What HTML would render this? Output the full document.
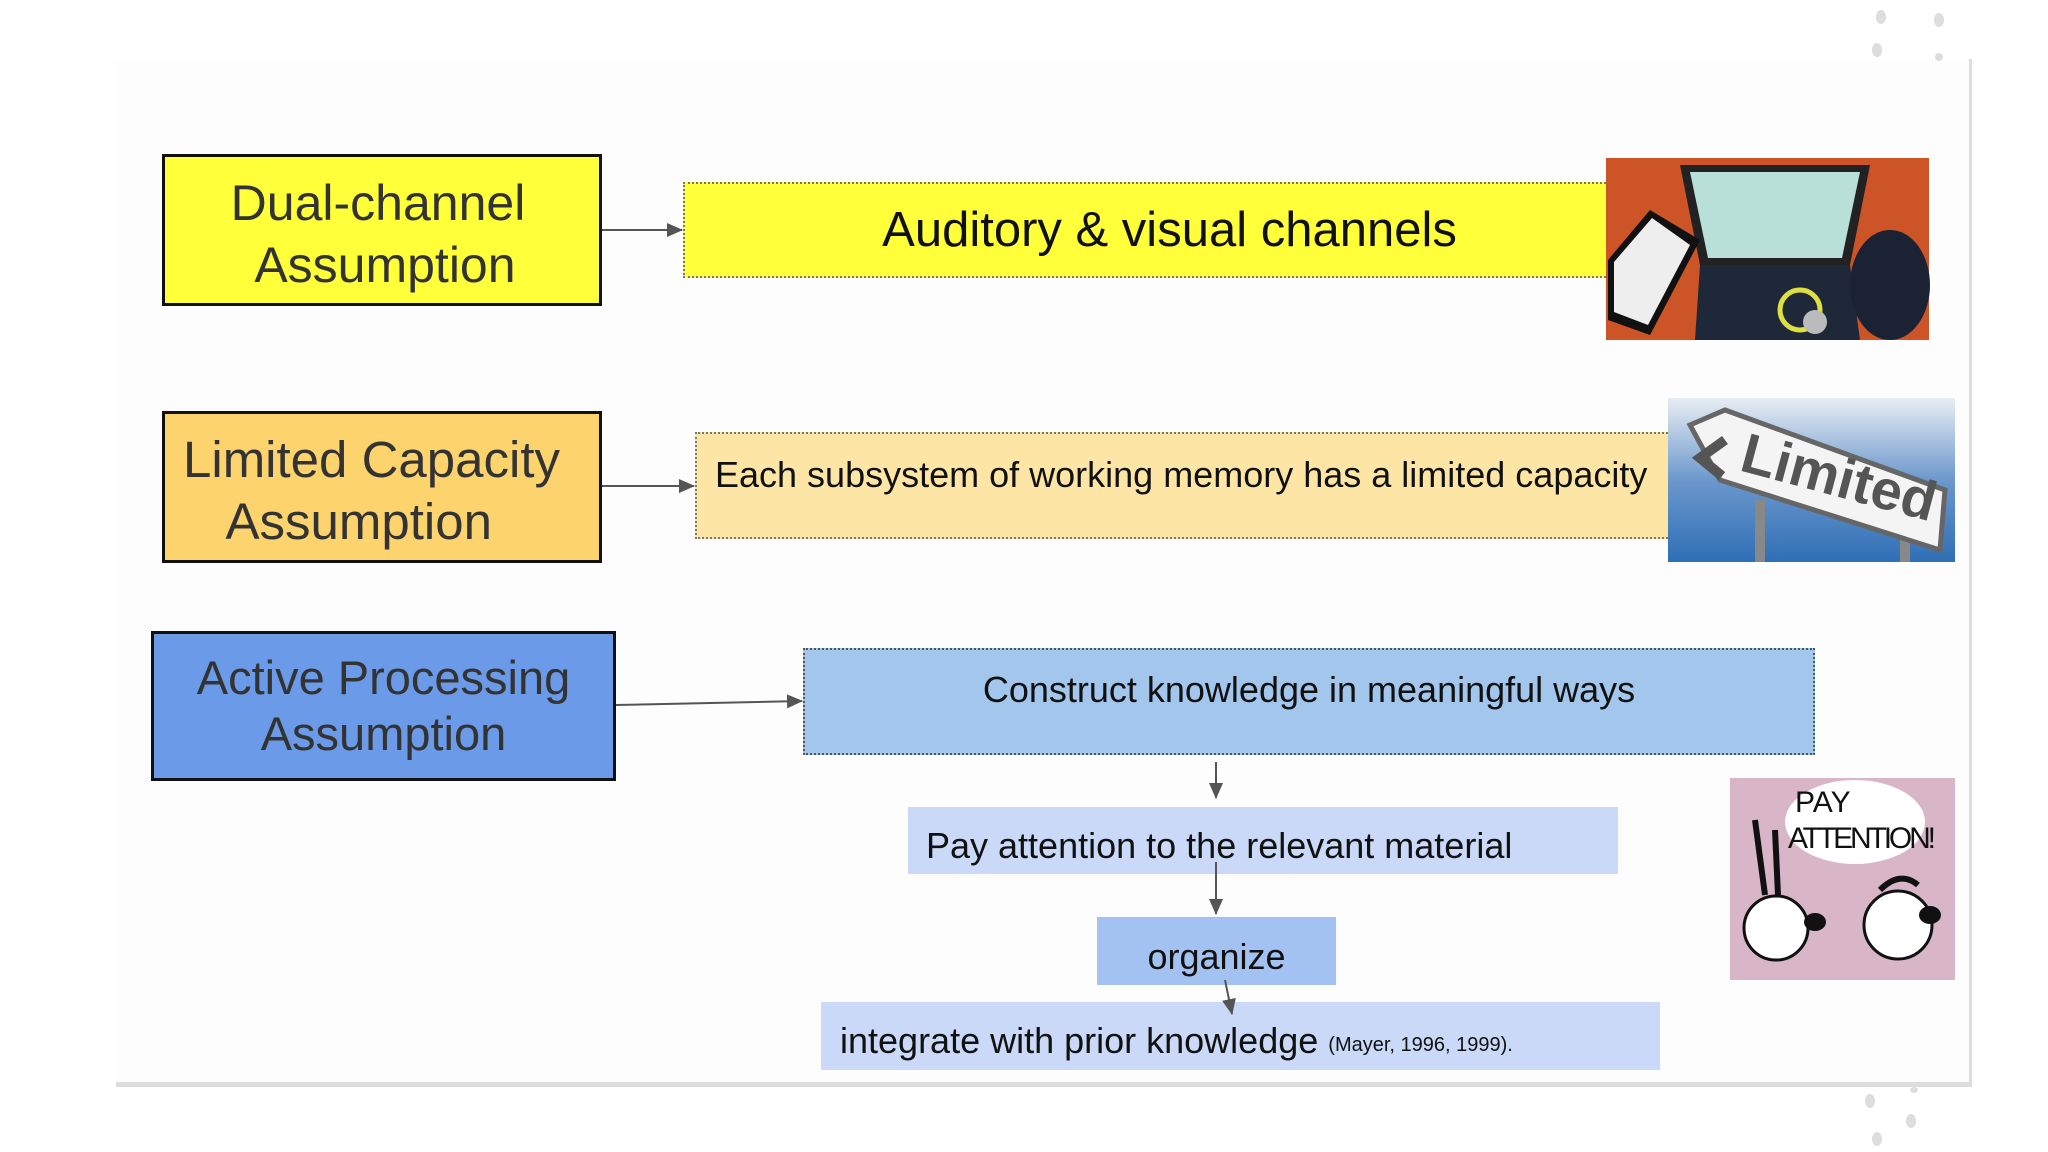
<!DOCTYPE html>
<html><head><meta charset="utf-8"><style>
body{margin:0;width:2048px;height:1152px;background:#fff;position:relative;overflow:hidden;font-family:"Liberation Sans",sans-serif}
.a{position:absolute;box-sizing:border-box;display:flex;align-items:center;justify-content:center;text-align:center;color:#222}
</style></head><body>
<div style="position:absolute;left:116px;top:59px;width:1855px;height:1025px;background:#fdfdfd"></div>
<div style="position:absolute;left:1969px;top:59px;width:3px;height:1025px;background:#ddd"></div>
<div style="position:absolute;left:116px;top:1082px;width:1856px;height:5px;background:#ddd"></div>

<div class="a" style="left:162px;top:154px;width:440px;height:152px;background:#ffff3a;border:3px solid #111;font-size:50px;line-height:62px;color:#333;padding:8px 8px 0 0">Dual-channel<br>&nbsp;Assumption</div>
<div class="a" style="left:162px;top:411px;width:440px;height:152px;background:#fdd36e;border:3px solid #111;font-size:51px;line-height:62px;color:#333;justify-content:flex-start;text-align:left;padding:8px 0 0 18px">Limited Capacity<br>&nbsp;&nbsp;&nbsp;Assumption</div>
<div class="a" style="left:151px;top:631px;width:465px;height:150px;background:#6b9be8;border:3px solid #111;font-size:47px;line-height:56px;color:#333">Active Processing<br>Assumption</div>

<div class="a" style="left:683px;top:182px;width:923px;height:96px;background:#ffff3a;border:2px dotted #777;border-right:none;font-size:49px;color:#111;padding-left:48px">Auditory &amp; visual channels</div>
<div class="a" style="left:695px;top:432px;width:973px;height:107px;background:#fde5a6;border:2px dotted #777;border-right:none;font-size:36px;color:#111;justify-content:flex-start;align-items:flex-start;padding:20px 0 0 18px">Each subsystem of working memory has a limited capacity</div>
<div class="a" style="left:803px;top:648px;width:1012px;height:107px;background:#a3c6ec;border:2px dotted #555;font-size:36px;color:#111;align-items:flex-start;padding-top:19px">Construct knowledge in meaningful ways</div>
<div class="a" style="left:908px;top:807px;width:710px;height:67px;background:#c9d9f7;font-size:36px;color:#111;justify-content:flex-start;padding:10px 0 0 18px">Pay attention to the relevant material</div>
<div class="a" style="left:1097px;top:917px;width:239px;height:68px;background:#a3c2f2;font-size:36px;color:#111;padding-top:12px">organize</div>
<div class="a" style="left:821px;top:1002px;width:839px;height:68px;background:#c9d9f7;font-size:36px;color:#111;justify-content:flex-start;padding:10px 0 0 19px">integrate with prior knowledge&nbsp;<span style="font-size:20px;padding-top:8px">(Mayer, 1996, 1999).</span></div>

<svg style="position:absolute;left:0;top:0" width="2048" height="1152">
<defs><marker id="m" markerWidth="16" markerHeight="14" refX="15" refY="7" orient="auto" markerUnits="userSpaceOnUse"><path d="M0,0L16,7L0,14z" fill="#555"/></marker>
<clipPath id="c1"><rect x="1668" y="398" width="287" height="164"/></clipPath></defs>
<g stroke="#555" stroke-width="2" fill="none" marker-end="url(#m)">
<line x1="602" y1="230" x2="682" y2="230"/>
<line x1="602" y1="486" x2="694" y2="486"/>
<line x1="616" y1="705" x2="802" y2="701"/>
<line x1="1216" y1="762" x2="1216" y2="798"/>
<line x1="1216" y1="862" x2="1216" y2="914"/>
<line x1="1225" y1="980" x2="1232" y2="1014"/>
</g>
<rect x="1606" y="158" width="323" height="182" fill="#d55a2a"/>
<rect x="1606" y="158" width="323" height="182" fill="#b84a20" opacity=".3"/>
<polygon points="1680,165 1870,165 1850,265 1700,265" fill="#222"/>
<polygon points="1690,172 1860,172 1842,258 1708,258" fill="#b8e0d8"/>
<polygon points="1700,265 1850,265 1860,340 1695,340" fill="#1e2838"/>
<polygon points="1608,260 1650,210 1700,240 1650,335 1608,320" fill="#111"/>
<polygon points="1614,262 1652,218 1690,245 1648,325 1614,312" fill="#eee"/>
<ellipse cx="1890" cy="285" rx="40" ry="55" fill="#1a2233"/>
<circle cx="1800" cy="310" r="20" fill="none" stroke="#dde040" stroke-width="5"/>
<circle cx="1815" cy="322" r="12" fill="#bbb"/>
<defs><linearGradient id="sk" x1="0" y1="0" x2="0" y2="1"><stop offset="0" stop-color="#e8eef4"/><stop offset=".5" stop-color="#6c98cc"/><stop offset="1" stop-color="#2f6fb6"/></linearGradient></defs>
<g clip-path="url(#c1)">
<rect x="1668" y="398" width="287" height="164" fill="url(#sk)"/>
<rect x="1755" y="500" width="10" height="62" fill="#888"/><rect x="1900" y="520" width="10" height="42" fill="#888"/>
<polygon points="1690,425 1725,410 1945,490 1940,550 1720,480" fill="#f4f4f4" stroke="#666" stroke-width="5"/>
<text x="1738" y="470" font-family="Liberation Sans" font-weight="bold" font-size="56" fill="#555" transform="rotate(15 1738 470)">Limited</text>
<path d="M1725,440 L1700,458 L1722,476" stroke="#555" stroke-width="10" fill="none"/>
</g>
<rect x="1730" y="778" width="225" height="202" fill="#d9b5c8"/>
<ellipse cx="1855" cy="822" rx="70" ry="42" fill="#fff"/>
<text x="1795" y="812" font-family="Liberation Sans" font-size="30" fill="#111">PAY</text>
<text x="1788" y="848" font-family="Liberation Sans" font-size="30" fill="#111" textLength="148">ATTENTION!</text>
<circle cx="1776" cy="928" r="32" fill="#fff" stroke="#111" stroke-width="3"/>
<circle cx="1898" cy="925" r="34" fill="#fff" stroke="#111" stroke-width="3"/>
<ellipse cx="1815" cy="922" rx="11" ry="9" fill="#111"/><ellipse cx="1930" cy="915" rx="11" ry="9" fill="#111"/>
<path d="M1765,895 L1755,820 M1778,895 L1775,830" stroke="#111" stroke-width="6"/>
<path d="M1880,890 Q1900,870 1918,885" stroke="#111" stroke-width="6" fill="none"/>
<g fill="#ddd"><ellipse cx="1881" cy="17" rx="5" ry="7"/><ellipse cx="1939" cy="20" rx="5" ry="7"/><ellipse cx="1877" cy="50" rx="5" ry="7"/><ellipse cx="1939" cy="57" rx="4" ry="4"/>
<ellipse cx="1870" cy="1101" rx="5" ry="7"/><ellipse cx="1911" cy="1121" rx="5" ry="7"/><ellipse cx="1877" cy="1139" rx="5" ry="7"/><ellipse cx="1914" cy="1090" rx="4" ry="3"/></g>
</svg>
</body></html>
